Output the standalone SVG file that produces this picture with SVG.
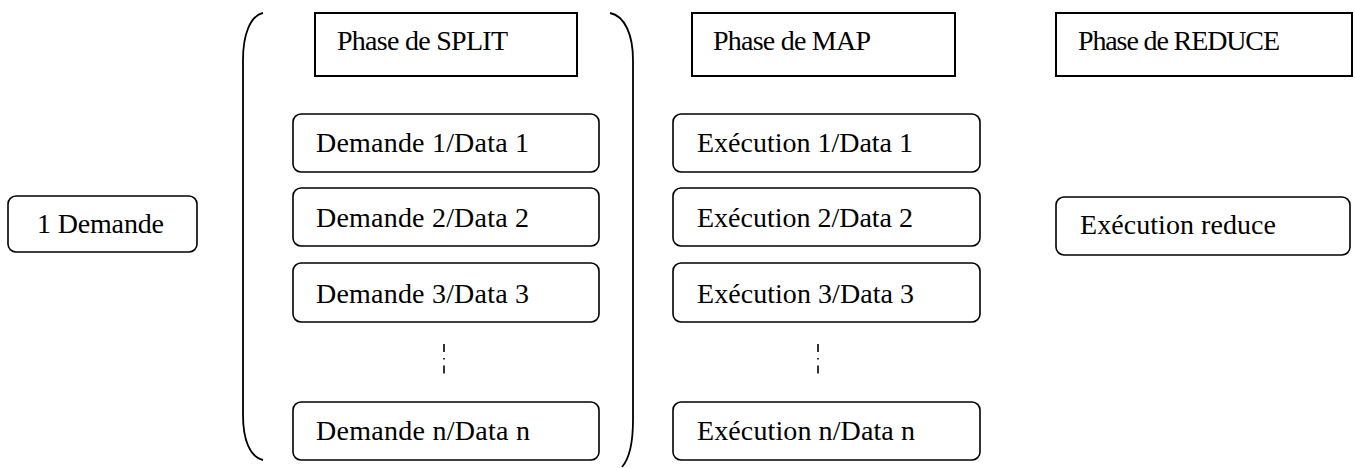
<svg xmlns="http://www.w3.org/2000/svg" width="1355" height="468" viewBox="0 0 1355 468">
<style>
text{font-family:"Liberation Serif","DejaVu Serif",serif;font-size:28px;fill:#000}
.hdr{fill:#fff;stroke:#000;stroke-width:2}
.box{fill:#fff;stroke:#000;stroke-width:1.6}
.par{fill:none;stroke:#000;stroke-width:1.8}
.dots{fill:none;stroke:#000;stroke-width:1.6;stroke-dasharray:8 6 1.5 6 8}
</style>
<rect width="1355" height="468" fill="#fff"/>
<g id="connectors">
<path class="par" d="M263,13 C250,16 243,35 243,60 L243,415 C243,440 250,457 263,460"/>
<path class="par" d="M610,13 C625,16 633,35 633,60 L633,420 C633,445 629,459 622,467"/>
<line class="dots" x1="444" y1="344" x2="444" y2="374"/>
<line class="dots" x1="818" y1="344" x2="818" y2="374"/>
</g>
<g id="n-demande"><rect class="box" x="8" y="196" width="189" height="56" rx="8"/><text x="37" y="233" textLength="127">1 Demande</text></g>
<g id="n-split"><rect class="hdr" x="315" y="13" width="262" height="63"/><text x="337" y="50" textLength="171">Phase de SPLIT</text></g>
<g id="n-map"><rect class="hdr" x="692" y="13" width="263" height="63"/><text x="713" y="50" textLength="158">Phase de MAP</text></g>
<g id="n-reduce"><rect class="hdr" x="1056" y="13" width="296" height="63"/><text x="1078" y="50" textLength="202">Phase de REDUCE</text></g>
<g id="n-d1"><rect class="box" x="293" y="114" width="306" height="58" rx="8"/><text x="316" y="152" textLength="213">Demande 1/Data 1</text></g>
<g id="n-d2"><rect class="box" x="293" y="188" width="306" height="58" rx="8"/><text x="316" y="227" textLength="213">Demande 2/Data 2</text></g>
<g id="n-d3"><rect class="box" x="293" y="263" width="306" height="59" rx="8"/><text x="316" y="303" textLength="213">Demande 3/Data 3</text></g>
<g id="n-dn"><rect class="box" x="293" y="402" width="306" height="58" rx="8"/><text x="316" y="440" textLength="214">Demande n/Data n</text></g>
<g id="n-e1"><rect class="box" x="673" y="114" width="307" height="58" rx="8"/><text x="697" y="152" textLength="216">Exécution 1/Data 1</text></g>
<g id="n-e2"><rect class="box" x="673" y="188" width="307" height="58" rx="8"/><text x="697" y="227" textLength="216">Exécution 2/Data 2</text></g>
<g id="n-e3"><rect class="box" x="673" y="263" width="307" height="59" rx="8"/><text x="697" y="303" textLength="217">Exécution 3/Data 3</text></g>
<g id="n-en"><rect class="box" x="673" y="402" width="307" height="58" rx="8"/><text x="697" y="440" textLength="218">Exécution n/Data n</text></g>
<g id="n-ereduce"><rect class="box" x="1056" y="197" width="294" height="58" rx="8"/><text x="1080" y="234" textLength="196">Exécution reduce</text></g>
</svg>
